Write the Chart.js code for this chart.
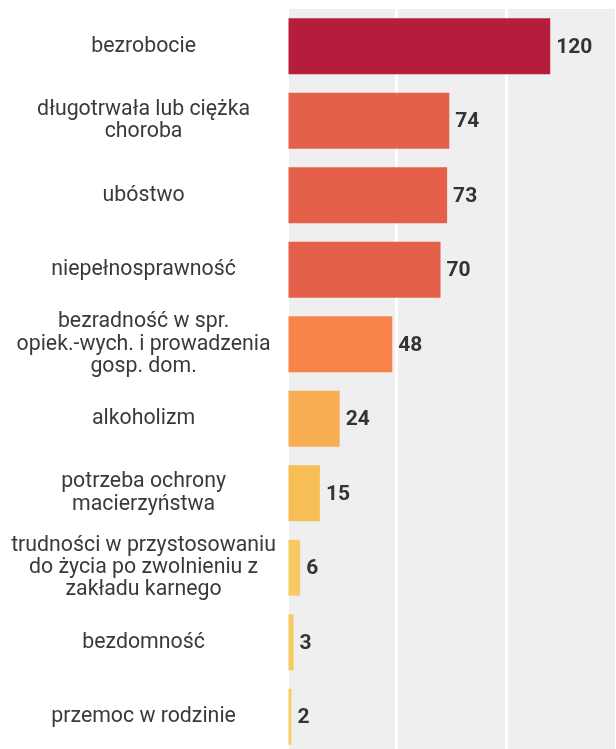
<!DOCTYPE html>
<html>
<head>
<meta charset="utf-8">
<script src="https://cdn.jsdelivr.net/npm/chart.js@4/dist/chart.umd.min.js"></script>
<style>
  html, body { margin: 0; padding: 0; background: #ffffff; overflow: hidden; }
  canvas { display: block; }
</style>
</head>
<body>
<canvas id="c" width="616" height="756" style="width:616px;height:756px"></canvas>
<script>
const categories = [
  "bezrobocie",
  ["długotrwała lub ciężka", "choroba"],
  "ubóstwo",
  "niepełnosprawność",
  ["bezradność w spr.", "opiek.-wych. i prowadzenia", "gosp. dom."],
  "alkoholizm",
  ["potrzeba ochrony", "macierzyństwa"],
  ["trudności w przystosowaniu", "do życia po zwolnieniu z", "zakładu karnego"],
  "bezdomność",
  "przemoc w rodzinie"
];
const values = [120, 74, 73, 70, 48, 24, 15, 6, 3, 2];
const barColors = ["#B51D3D", "#E4604A", "#E4604A", "#E4604A", "#F9844A", "#F8AD52", "#F7BE56", "#F5CA60", "#F5CA60", "#F5CA60"];
const xTicks = [0, 50, 100, 150];

const bgPlugin = {
  id: 'bg',
  beforeDraw(chart) {
    const a = chart.chartArea, ctx = chart.ctx;
    ctx.save();
    ctx.fillStyle = '#EFEFEF';
    ctx.fillRect(a.left, a.top, a.right - a.left, a.bottom - a.top);
    ctx.restore();
  }
};

const valueLabels = {
  id: 'valueLabels',
  afterDatasetsDraw(chart) {
    const ctx = chart.ctx;
    const meta = chart.getDatasetMeta(0);
    ctx.save();
    ctx.font = 'bold 21px Roboto';
    ctx.fillStyle = '#333333';
    ctx.textAlign = 'left';
    ctx.textBaseline = 'middle';
    meta.data.forEach((el, i) => {
      ctx.fillText(String(chart.data.datasets[0].data[i]), el.x + 6, el.y + 1);
    });
    ctx.restore();
  }
};

new Chart(document.getElementById('c'), {
  type: 'bar',
  data: {
    labels: categories,
    datasets: [{
      data: values,
      backgroundColor: barColors,
      borderWidth: 0,
      barPercentage: 0.75,
      categoryPercentage: 1.0
    }]
  },
  options: {
    indexAxis: 'y',
    responsive: false,
    animation: false,
    layout: { padding: { top: 9, bottom: 2, left: 0, right: 0 } },
    plugins: { legend: { display: false }, tooltip: { enabled: false } },
    scales: {
      x: {
        min: 0, max: 150,
        afterBuildTicks(scale) { scale.ticks = xTicks.map(v => ({ value: v })); },
        afterFit(scale) { scale.height = 0; scale.paddingLeft = 0; scale.paddingRight = 0; },
        ticks: { display: false },
        grid: { color: '#FFFFFF', lineWidth: 3, drawTicks: false },
        border: { display: false }
      },
      y: {
        afterFit(scale) { scale.width = 287; scale.paddingTop = 0; scale.paddingBottom = 0; },
        grid: { display: false, drawTicks: false },
        border: { display: false },
        ticks: {
          crossAlign: 'center',
          padding: 11,
          color: '#3a3a3a',
          font: { family: 'Roboto', size: 21.3, lineHeight: 1.04 }
        }
      }
    }
  },
  plugins: [bgPlugin, valueLabels]
});
</script>
</body>
</html>
